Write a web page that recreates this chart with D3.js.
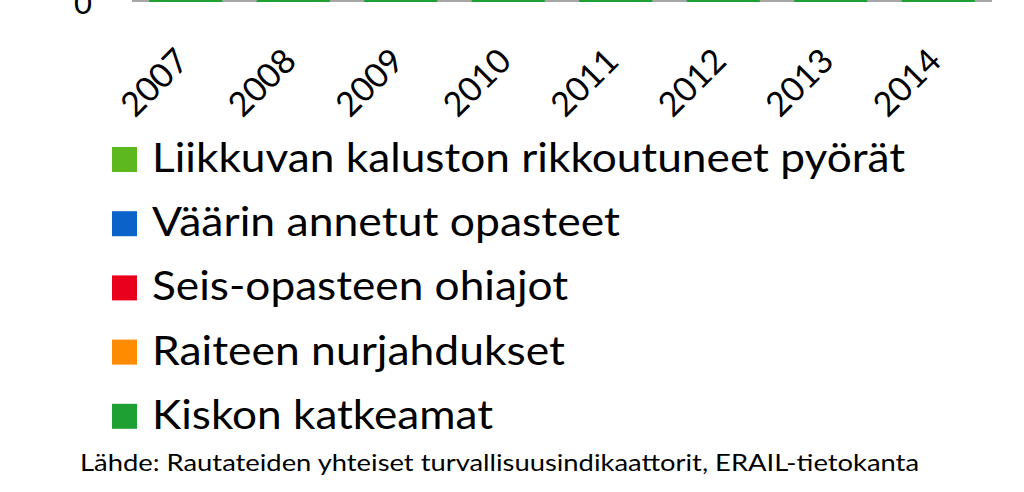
<!DOCTYPE html>
<html><head><meta charset="utf-8">
<script src="https://cdn.jsdelivr.net/npm/d3@7"></script>
<style>html,body{margin:0;padding:0;background:#fff;overflow:hidden}</style>
</head><body>
<svg id="c" width="1024" height="492"></svg>
<script>
const years = ["2007","2008","2009","2010","2011","2012","2013","2014"];
// stacked bottom -> top
const kiskonKatkeamat = [70, 50, 60, 110, 40, 50, 30, 45];
const raiteenNurjahdukset = [10, 15, 5, 20, 10, 5, 8, 4];
const seisOhiajot = [30, 25, 20, 22, 18, 25, 20, 19];
const vaarinOpasteet = [2, 1, 3, 1, 0, 2, 1, 1];
const rikkoutuneetPyorat = [5, 3, 8, 4, 6, 3, 5, 4];
const seriesNames = ["Kiskon katkeamat","Raiteen nurjahdukset","Seis-opasteen ohiajot","Väärin annetut opasteet","Liikkuvan kaluston rikkoutuneet pyörät"];
const seriesColors = ["#1FA032","#FF8C00","#E8001C","#0B62C8","#5CB81E"];
const yTickLabels = ["0"];
const sourceText = "Lähde: Rautateiden yhteiset turvallisuusindikaattorit, ERAIL-tietokanta";

const seriesValues = [kiskonKatkeamat, raiteenNurjahdukset, seisOhiajot, vaarinOpasteet, rikkoutuneetPyorat];
const table = years.map((y,i)=>{const o={year:y}; seriesNames.forEach((n,k)=>o[n]=seriesValues[k][i]); return o;});

const svg = d3.select("#c");
const FONT = "Lato, 'Open Sans', sans-serif";

const x = d3.scaleBand().domain(years).range([132, 992]).paddingInner(0.32).paddingOuter(0.16);
const y = d3.scaleLinear().domain([0, 200]).range([2, -700]);

// axis baseline / plot border
svg.append("line").attr("x1",132).attr("x2",992).attr("y1",1).attr("y2",1)
  .attr("stroke","#A6A6A6").attr("stroke-width",2);

const stack = d3.stack().keys(seriesNames)(table);
svg.append("g").selectAll("g").data(stack).join("g")
  .attr("fill",(d,i)=>seriesColors[i])
  .selectAll("rect").data(d=>d).join("rect")
  .attr("x",d=>x(d.data.year)).attr("width",x.bandwidth())
  .attr("y",d=>y(d[1])).attr("height",d=>y(d[0])-y(d[1]));

// y tick label
svg.append("g").selectAll("text").data(yTickLabels).join("text")
  .attr("x",83).attr("y",d=>y(+d)+12).attr("text-anchor","middle")
  .attr("font-family",FONT).attr("font-size",31).attr("fill","#000").text(d=>d);

// year labels rotated
svg.append("g").selectAll("text").data(years).join("text")
  .attr("transform",d=>`translate(${x(d)+x.bandwidth()/2+5},63) rotate(-45)`)
  .attr("text-anchor","end").attr("font-family",FONT).attr("font-size",34)
  .attr("fill","#000").text(d=>d);

// legend (top to bottom reversed order)
const legendOrder = seriesNames.map((n,i)=>({name:n,color:seriesColors[i]})).reverse();
const legendWidths = [753, 468, 416, 413, 341];
const lg = svg.append("g");
legendOrder.forEach((d,i)=>{
  const top = 147 + i*64.2;
  lg.append("rect").attr("x",112).attr("y",top).attr("width",25).attr("height",25).attr("fill",d.color);
  lg.append("text").attr("x",152).attr("y",top+25).attr("font-family",FONT).attr("font-size",41)
    .attr("fill","#000").attr("textLength",legendWidths[i]).attr("lengthAdjust","spacingAndGlyphs").text(d.name);
});

svg.append("text").attr("x",80).attr("y",471).attr("font-family",FONT).attr("font-size",24)
  .attr("fill","#000").attr("textLength",839).attr("lengthAdjust","spacingAndGlyphs").text(sourceText);
</script>
</body></html>
